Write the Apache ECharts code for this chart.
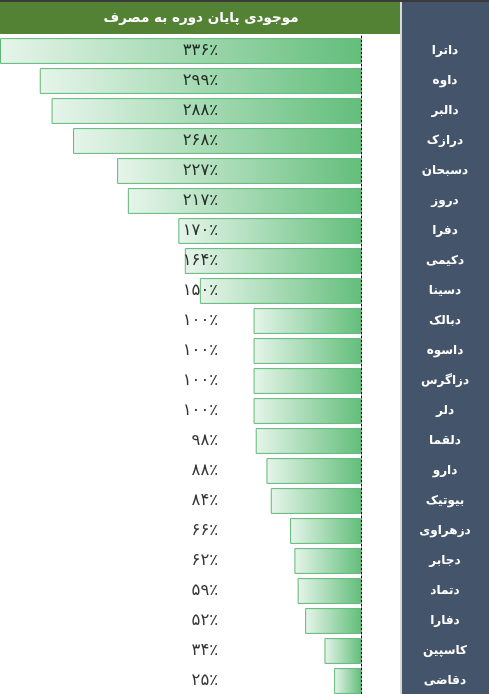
<!DOCTYPE html>
<html><head><meta charset="utf-8">
<script src="https://cdn.jsdelivr.net/npm/echarts@6/dist/echarts.min.js"></script>
<style>html,body{margin:0;padding:0;background:#fff}#c{width:489px;height:694px}</style>
</head><body><div id="c"></div>
<script>
const titleText = 'موجودی پایان دوره به مصرف';
const categories = ['داترا','داوه','دالبر','درازک','دسبحان','دروز','دفرا','دکیمی','دسینا','دبالک','داسوه','دزاگرس','دلر','دلقما','دارو','بیوتیک','دزهراوی','دجابر','دتماد','دفارا','کاسپین','دقاضی'];
const values = [336,299,288,268,227,217,170,164,150,100,100,100,100,98,88,84,66,62,59,52,34,25];
const labelAnchor = 133; // axis value where the value labels end (fixed column)

const fa = n => String(n).replace(/\d/g, d => '۰۱۲۳۴۵۶۷۸۹'[d]) + '٪';

const chart = echarts.init(document.getElementById('c'), null, {renderer:'canvas'});
chart.setOption({
  animation:false,
  backgroundColor:'#fff',
  graphic:[
    {type:'rect', shape:{x:0,y:0,width:489,height:2}, style:{fill:'#3a3a3a'}, z:-1},
    {type:'rect', shape:{x:0,y:2,width:400,height:32}, style:{fill:'#548235'}, z:-1},
    {type:'rect', shape:{x:400,y:2,width:2,height:692}, style:{fill:'#d9d9d9'}, z:-1},
    {type:'rect', shape:{x:402,y:2,width:87,height:692}, style:{fill:'#44546a'}, z:-1},
    {type:'text', x:201, y:18, style:{text:titleText, align:'center', verticalAlign:'middle', fill:'#fff', font:'bold 13.5px "DejaVu Sans"'}, z:5}
  ],
  grid:{left:0, top:36, width:361, height:660, containLabel:false, outerBoundsMode:'none'},
  xAxis:{type:'value', min:0, max:336, inverse:true, show:false},
  yAxis:{type:'category', data:categories, inverse:true, position:'right',
    axisLine:{show:true, lineStyle:{color:'#000', type:[2,2], width:1}},
    axisTick:{show:false},
    axisLabel:{color:'#fff', fontFamily:'DejaVu Sans', fontWeight:'bold', fontSize:12, align:'center', margin:84}
  },
  series:[
    {type:'bar', data:values, barCategoryGap:'14%', z:2,
      itemStyle:{borderColor:'#5fb877', borderWidth:1,
        color:new echarts.graphic.LinearGradient(0,0,1,0,[{offset:0,color:'#e6f5ea'},{offset:1,color:'#63be7b'}])},
      label:{show:false}
    },
    {type:'scatter', data:values.map((v,i)=>[labelAnchor, i]), symbolSize:0, z:5, silent:true,
      label:{show:true, position:'left', distance:0, formatter:p=>fa(values[p.dataIndex]), color:'#000', fontFamily:'DejaVu Sans', fontSize:16.5}
    }
  ]
});
</script></body></html>
